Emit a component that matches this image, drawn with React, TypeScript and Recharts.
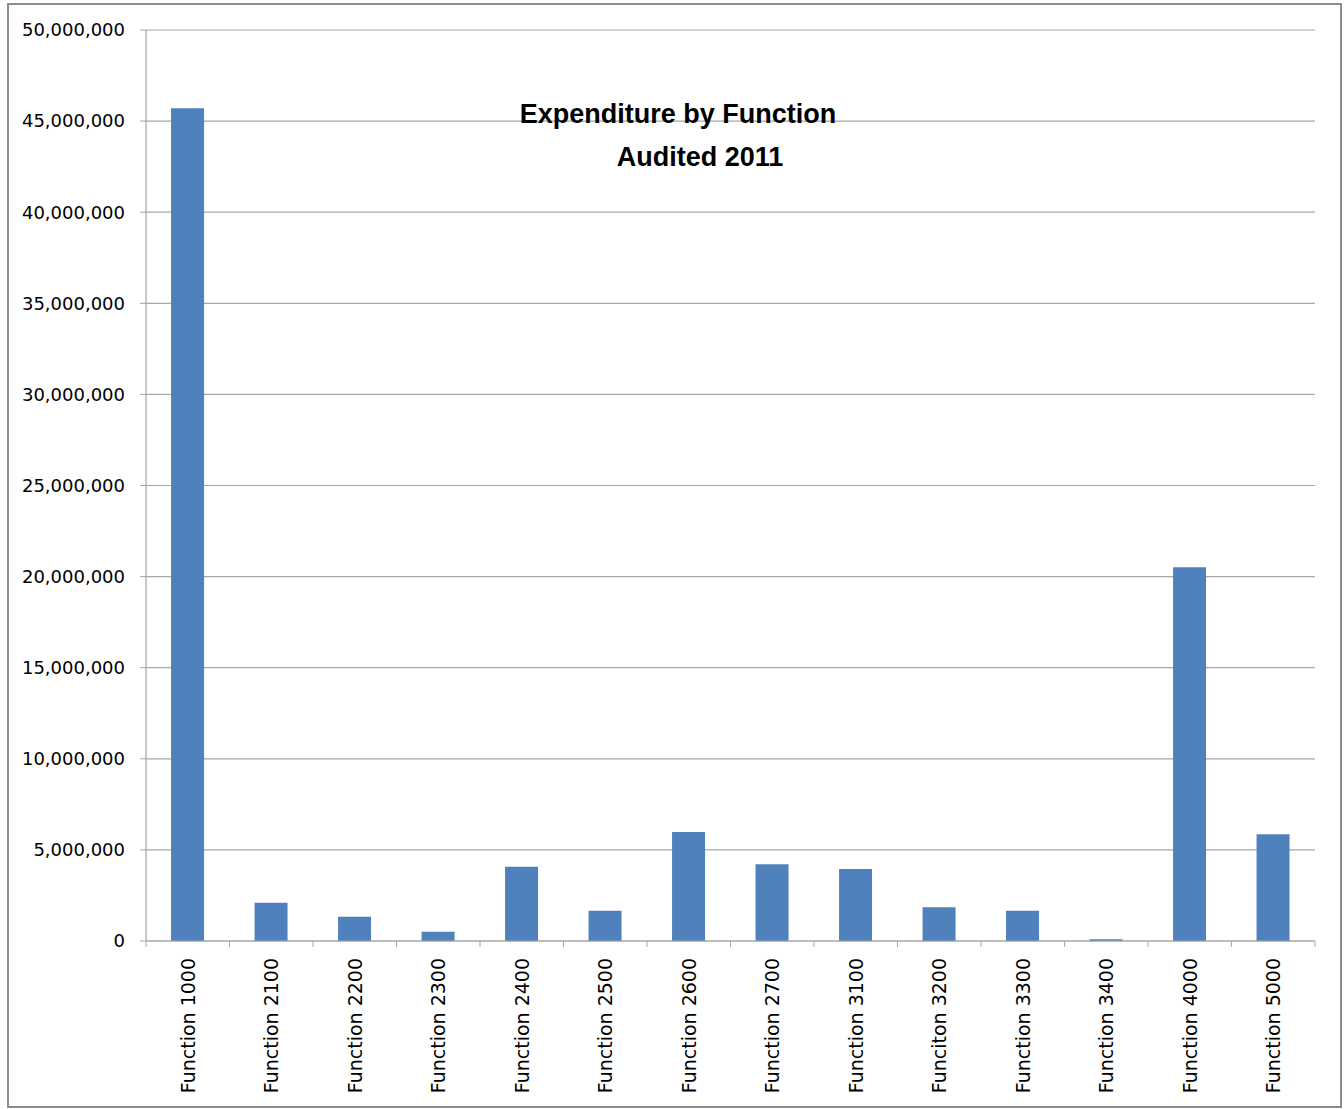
import React from "react";
import { BarChart, Bar, XAxis, YAxis, CartesianGrid } from "recharts";

const categories = [
  "Function 1000", "Function 2100", "Function 2200", "Function 2300", "Function 2400",
  "Function 2500", "Function 2600", "Function 2700", "Function 3100", "Funciton 3200",
  "Function 3300", "Function 3400", "Function 4000", "Function 5000",
];
const expenditure = [
  45700000, 2100000, 1330000, 510000, 4080000, 1660000, 5980000,
  4210000, 3950000, 1850000, 1660000, 90000, 20510000, 5860000,
];
const yTicks = [0, 5000000, 10000000, 15000000, 20000000, 25000000, 30000000, 35000000, 40000000, 45000000, 50000000];
const titleLines = ["Expenditure by Function", "Audited 2011"];

const data = categories.map((name, i) => ({ name, value: expenditure[i] }));

const W = 1344;
const H = 1109;
const PLOT_LEFT = 146;
const PLOT_RIGHT = 1315;
const PLOT_TOP = 30;
const PLOT_BOTTOM = 941;
const BAND = (PLOT_RIGHT - PLOT_LEFT) / categories.length;
const GRAY = "#a6a6a6";
const FONT = "'DejaVu Sans', sans-serif";

const XTick = (props: any) => {
  const { x, y, payload, index } = props;
  const last = index === categories.length - 1;
  return (
    <g>
      <line x1={x - BAND / 2} x2={x - BAND / 2} y1={y} y2={y + 6} stroke={GRAY} strokeWidth={1} />
      {last && <line x1={x + BAND / 2} x2={x + BAND / 2} y1={y} y2={y + 6} stroke={GRAY} strokeWidth={1} />}
      <text
        x={x + 7}
        y={y + 17}
        transform={`rotate(-90, ${x + 7}, ${y + 17})`}
        textAnchor="end"
        fontFamily={FONT}
        fontSize={19}
        fill="#000"
      >
        {payload.value}
      </text>
    </g>
  );
};

export default function App() {
  return (
    <div style={{ position: "absolute", left: 0, top: 0, width: W, height: H, background: "#fff" }}>
      <div
        style={{
          position: "absolute",
          left: 7,
          top: 3,
          width: 1331,
          height: 1101,
          border: "2px solid #8c8c8c",
        }}
      />
      <div style={{ position: "absolute", left: 0, top: 0 }}>
        <BarChart
          width={W}
          height={H}
          data={data}
          margin={{ top: PLOT_TOP, left: 6, right: W - PLOT_RIGHT, bottom: 8 }}
          barCategoryGap="30%"
        >
          <CartesianGrid vertical={false} stroke={GRAY} strokeWidth={1.2} />
          <XAxis
            dataKey="name"
            interval={0}
            height={H - PLOT_BOTTOM - 8}
            axisLine={{ stroke: GRAY, strokeWidth: 1.2 }}
            tickLine={false}
            tickSize={0}
            tickMargin={0}
            tick={<XTick />}
          />
          <YAxis
            width={PLOT_LEFT - 6}
            domain={[0, 50000000]}
            ticks={yTicks}
            interval={0}
            axisLine={{ stroke: GRAY, strokeWidth: 1.2 }}
            tickLine={{ stroke: GRAY }}
            tickSize={6}
            tickMargin={15}
            tick={{ fill: "#000", fontFamily: FONT, fontSize: 18 }}
            tickFormatter={(v: number) => v.toLocaleString("en-US")}
          />
          <Bar dataKey="value" fill="#4f81bd" isAnimationActive={false} />
        </BarChart>
      </div>
      <svg width={W} height={H} style={{ position: "absolute", left: 0, top: 0, pointerEvents: "none" }}>
        <text x={678} y={123} textAnchor="middle" fontFamily="'Liberation Sans', Arial, sans-serif" fontWeight="bold" fontSize={27} fill="#000">
          {titleLines[0]}
        </text>
        <text x={700} y={166} textAnchor="middle" fontFamily="'Liberation Sans', Arial, sans-serif" fontWeight="bold" fontSize={27} fill="#000">
          {titleLines[1]}
        </text>
      </svg>
    </div>
  );
}
